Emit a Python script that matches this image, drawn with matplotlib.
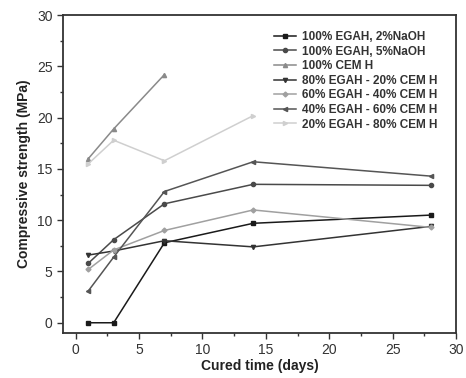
import matplotlib
matplotlib.use('Agg')
import matplotlib.pyplot as plt
from matplotlib.ticker import MultipleLocator

plt.rcParams['font.family'] = ['Liberation Sans', 'DejaVu Sans']

days = [1, 3, 7, 14, 28]
days_cem = [1, 3, 7]
days_20 = [1, 3, 7, 14]

egah_2naoh = [0.0, 0.0, 7.8, 9.7, 10.5]
egah_5naoh = [5.8, 8.1, 11.6, 13.5, 13.4]
cem_h = [16.0, 18.9, 24.2]
egah80 = [6.6, 7.0, 8.0, 7.4, 9.4]
egah60 = [5.2, 7.1, 9.0, 11.0, 9.3]
egah40 = [3.1, 6.4, 12.8, 15.7, 14.3]
egah20 = [15.5, 17.8, 15.8, 20.2]

labels = ['100% EGAH, 2%NaOH', '100% EGAH, 5%NaOH', '100% CEM H',
          '80% EGAH - 20% CEM H', '60% EGAH - 40% CEM H',
          '40% EGAH - 60% CEM H', '20% EGAH - 80% CEM H']

fig = plt.figure(figsize=(4.66, 3.78), dpi=100)
ax = fig.add_axes([0.135, 0.119, 0.844, 0.841])

ax.plot(days, egah_2naoh, color='#1a1a1a', marker='s', ms=3, lw=1.1, label=labels[0])
ax.plot(days, egah_5naoh, color='#4a4a4a', marker='o', ms=3, lw=1.1, label=labels[1])
ax.plot(days_cem, cem_h, color='#8a8a8a', marker='^', ms=3, lw=1.1, label=labels[2])
ax.plot(days, egah80, color='#333333', marker='v', ms=3, lw=1.1, label=labels[3])
ax.plot(days, egah60, color='#a0a0a0', marker='D', ms=2.5, lw=1.1, label=labels[4])
ax.plot(days, egah40, color='#555555', marker='<', ms=3, lw=1.1, label=labels[5])
ax.plot(days_20, egah20, color='#cfcfcf', marker='>', ms=3, lw=1.1, label=labels[6])

ax.set_xlim(-1, 30)
ax.set_ylim(-1, 30)
ax.xaxis.set_major_locator(MultipleLocator(5))
ax.xaxis.set_minor_locator(MultipleLocator(2.5))
ax.yaxis.set_major_locator(MultipleLocator(5))
ax.yaxis.set_minor_locator(MultipleLocator(2.5))
ax.tick_params(which='major', direction='out', length=4, width=1, labelsize=10,
               colors='#333333')
ax.tick_params(which='minor', direction='out', length=2.5, width=1, colors='#333333')
for s in ax.spines.values():
    s.set_linewidth(1.3)
    s.set_color('#333333')

ax.set_xlabel('Cured time (days)', fontsize=10, fontweight='bold', color='#222222', labelpad=1)
ax.set_ylabel('Compressive strength (MPa)', fontsize=10, fontweight='bold', color='#222222', labelpad=4)

leg = ax.legend(loc='upper right', bbox_to_anchor=(0.965, 0.965), frameon=False,
                prop={'weight': 'bold', 'size': 8.5}, handlelength=1.9,
                handletextpad=0.5, labelspacing=0.22, borderaxespad=0)
for t in leg.get_texts():
    t.set_color('#333333')

fig.savefig('out.png', dpi=100)
